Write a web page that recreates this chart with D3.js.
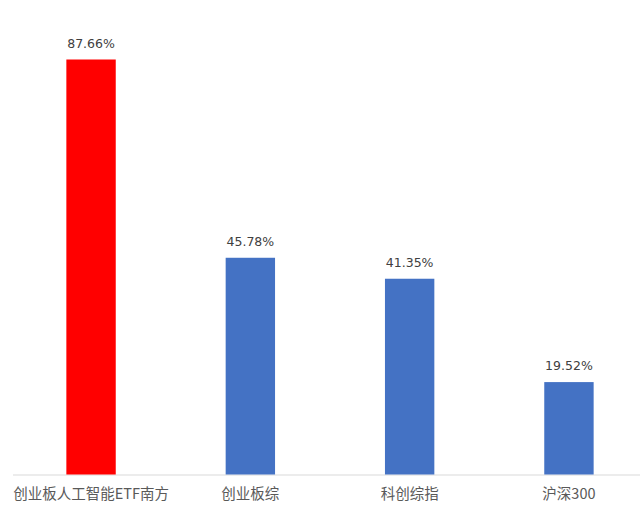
<!DOCTYPE html>
<html>
<head>
<meta charset="utf-8">
<script src="https://cdn.jsdelivr.net/npm/d3@7"></script>
<style>
  body { margin: 0; background: #fff; }
  svg { display: block; }
</style>
</head>
<body>
<svg id="chart" width="640" height="513"></svg>
<script>
// data
const categories = ["创业板人工智能ETF南方", "创业板综", "科创综指", "沪深300"];
const returns = [87.66, 45.78, 41.35, 19.52];
const barColors = ["#ff0000", "#4472c4", "#4472c4", "#4472c4"];

const svg = d3.select("#chart");
const baseY = 474.5;

const x = d3.scaleBand()
    .domain(categories)
    .range([11.4, 648.6])
    .paddingInner(0.69)
    .paddingOuter(0.345);

const y = d3.scaleLinear()
    .domain([0, 87.66])
    .range([baseY, 59.5]);

// baseline
svg.append("line")
    .attr("x1", 13)
    .attr("x2", 640)
    .attr("y1", baseY + 0.5)
    .attr("y2", baseY + 0.5)
    .attr("stroke", "#d9d9d9")
    .attr("stroke-width", 1);

svg.selectAll("rect.bar")
    .data(returns)
    .join("rect")
    .attr("class", "bar")
    .attr("x", (d, i) => x(categories[i]))
    .attr("y", d => y(d))
    .attr("width", x.bandwidth())
    .attr("height", d => baseY - y(d))
    .attr("fill", (d, i) => barColors[i]);

// value labels
svg.selectAll("text.val")
    .data(returns)
    .join("text")
    .attr("class", "val")
    .attr("x", (d, i) => x(categories[i]) + x.bandwidth() / 2)
    .attr("y", d => y(d) - 12)
    .attr("text-anchor", "middle")
    .attr("font-family", "'DejaVu Sans', sans-serif")
    .attr("font-size", 12.5)
    .attr("fill", "#404040")
    .text(d => d.toFixed(2) + "%");

// category labels
svg.selectAll("text.cat")
    .data(categories)
    .join("text")
    .attr("class", "cat")
    .attr("x", d => x(d) + x.bandwidth() / 2)
    .attr("y", 498.5)
    .attr("text-anchor", "middle")
    .attr("font-family", "'Noto Sans CJK SC', sans-serif")
    .attr("font-size", 14.5)
    .attr("fill", "#595959")
    .text(d => d);
</script>
</body>
</html>
